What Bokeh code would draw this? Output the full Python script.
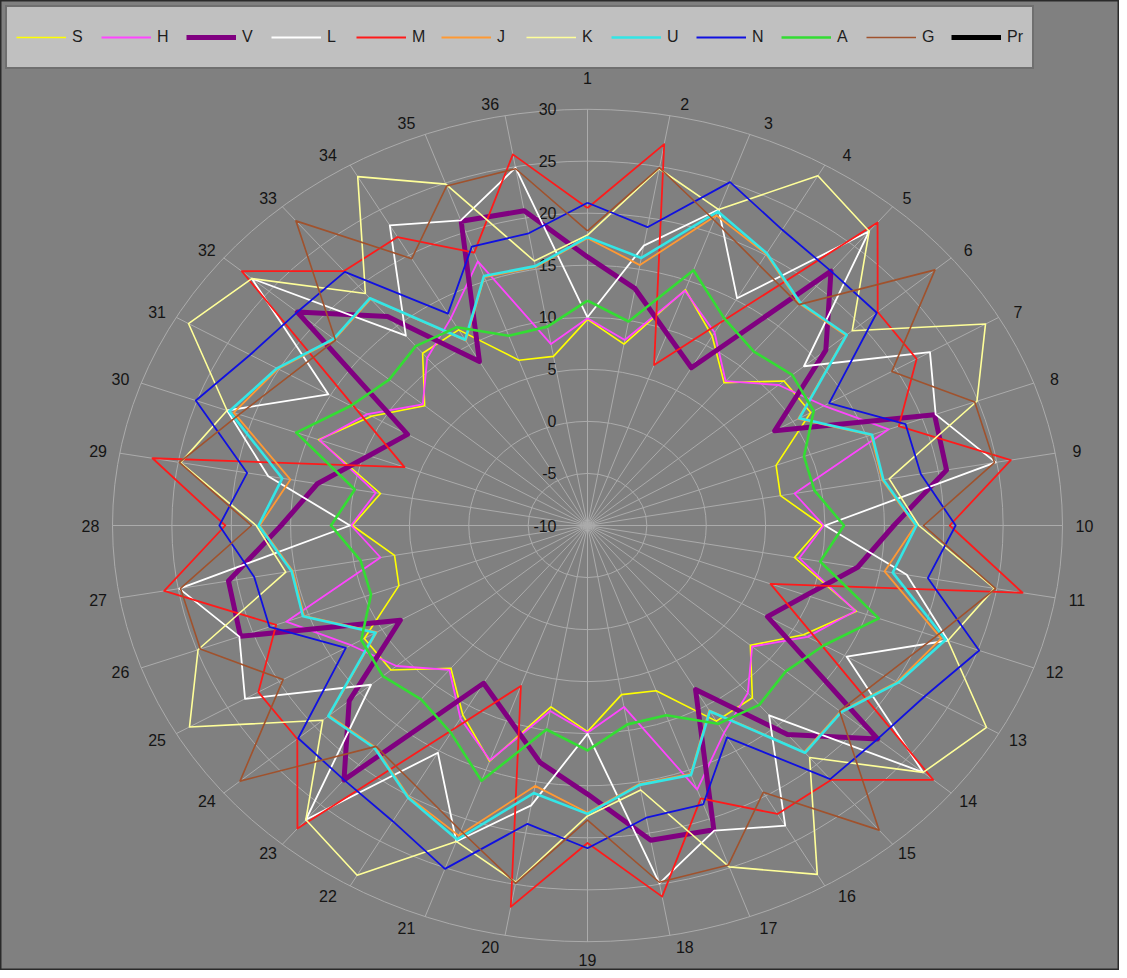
import numpy as np
from bokeh.plotting import figure
from bokeh.models import Legend, LegendItem, Range1d, ColumnDataSource
from bokeh.core.properties import value
from bokeh.embed import file_html
from bokeh.resources import INLINE

# ---------------- data ----------------
categories = [str(i) for i in range(1, 37)]
radial_ticks = [-10, -5, 0, 5, 10, 15, 20, 25, 30]
R_MIN = -10
R_MAX = 30

S = [9.8, 7.7, 14.1, 11.0, 7.9, 11.6, 11.7, 6.9, 6.5,
     9.8, 7.7, 14.1, 11.0, 7.9, 11.6, 11.7, 6.9, 6.5,
     9.8, 7.7, 14.1, 11.0, 7.9, 11.6, 11.7, 6.9, 6.5,
     9.8, 7.7, 14.1, 11.0, 7.9, 11.6, 11.7, 6.9, 6.5]
H = [9.9, 8.1, 14.0, 11.4, 8.1, 11.0, 13.0, 17.0, 7.7,
     9.9, 8.1, 14.0, 11.4, 8.1, 11.0, 13.0, 17.0, 7.7,
     9.9, 8.1, 14.0, 11.4, 8.1, 11.0, 13.0, 17.0, 7.7,
     9.9, 8.1, 14.0, 11.4, 8.1, 11.0, 13.0, 17.0, 7.7]
V = [15.8, 13.1, 9.6, 7.5, 21.9, 16.2, 8.2, 21.1, 20.7,
     15.8, 13.1, 9.6, 7.5, 21.9, 16.2, 8.2, 21.1, 20.7,
     15.8, 13.1, 9.6, 7.5, 21.9, 16.2, 8.2, 21.1, 20.7,
     15.8, 13.1, 9.6, 7.5, 21.9, 16.2, 8.2, 21.1, 20.7]
L = [10.0, 17.3, 22.3, 15.2, 26.9, 13.8, 23.3, 21.2, 24.9,
     10.0, 17.3, 22.3, 15.2, 26.9, 13.8, 23.3, 21.2, 24.9,
     10.0, 17.3, 22.3, 15.2, 26.9, 13.8, 23.3, 21.2, 24.9,
     10.0, 17.3, 22.3, 15.2, 26.9, 13.8, 23.3, 21.2, 24.9]
M = [20.5, 27.2, 6.4, 12.6, 28.0, 21.9, 22.0, 17.9, 26.2,
     20.5, 27.2, 6.4, 12.6, 28.0, 21.9, 22.0, 17.9, 26.2,
     20.5, 27.2, 6.4, 12.6, 28.0, 21.9, 22.0, 17.9, 26.2,
     20.5, 27.2, 6.4, 12.6, 28.0, 21.9, 22.0, 17.9, 26.2]
J = [17.6, 15.4, 21.7, 20.1, 17.8, 18.4, 10.5, 15.4, 15.2,
     17.6, 15.4, 21.7, 20.1, 17.8, 18.4, 10.5, 15.4, 15.2,
     17.6, 15.4, 21.7, 20.1, 17.8, 18.4, 10.5, 15.4, 15.2,
     17.6, 15.4, 21.7, 20.1, 17.8, 18.4, 10.5, 15.4, 15.2]
K = [17.9, 24.8, 22.3, 28.8, 26.9, 19.1, 28.7, 24.9, 15.8,
     17.9, 24.8, 22.3, 28.8, 26.9, 19.1, 28.7, 24.9, 15.8,
     17.9, 24.8, 22.3, 28.8, 26.9, 19.1, 28.7, 24.9, 15.8,
     17.9, 24.8, 22.3, 28.8, 26.9, 19.1, 28.7, 24.9, 15.8]
U = [17.7, 16.1, 22.1, 20.2, 17.9, 18.5, 10.6, 15.5, 15.3,
     17.7, 16.1, 22.1, 20.2, 17.9, 18.5, 10.6, 15.5, 15.3,
     17.7, 16.1, 22.1, 20.2, 17.9, 18.5, 10.6, 15.5, 15.3,
     17.7, 16.1, 22.1, 20.2, 17.9, 18.5, 10.6, 15.5, 15.3]
N = [21.0, 19.1, 25.1, 22.8, 21.9, 21.8, 13.5, 18.5, 18.5,
     21.0, 19.1, 25.1, 22.8, 21.9, 21.8, 13.5, 18.5, 18.5,
     21.0, 19.1, 25.1, 22.8, 21.9, 21.8, 13.5, 18.5, 18.5,
     21.0, 19.1, 25.1, 22.8, 21.9, 21.8, 13.5, 18.5, 18.5]
A = [11.6, 9.9, 16.1, 13.0, 11.8, 12.5, 12.0, 9.4, 9.4,
     11.6, 9.9, 16.1, 13.0, 11.8, 12.5, 12.0, 9.4, 9.4,
     11.6, 9.9, 16.1, 13.0, 11.8, 12.5, 12.0, 9.4, 9.4,
     11.6, 9.9, 16.1, 13.0, 11.8, 12.5, 12.0, 9.4, 9.4]
G = [18.3, 24.9, 21.2, 18.9, 17.7, 28.2, 19.6, 24.7, 24.8,
     18.3, 24.9, 21.2, 18.9, 17.7, 28.2, 19.6, 24.7, 24.8,
     18.3, 24.9, 21.2, 18.9, 17.7, 28.2, 19.6, 24.7, 24.8,
     18.3, 24.9, 21.2, 18.9, 17.7, 28.2, 19.6, 24.7, 24.8]
Pr = [None] * 36   # listed in the legend, no plotted values

series_names = ["S", "H", "V", "L", "M", "J", "K", "U", "N", "A", "G", "Pr"]
series_values = [S, H, V, L, M, J, K, U, N, A, G, Pr]
series_colors = ["#ffff00", "#ff44ff", "#800080", "#ffffff", "#ff1a1a", "#ff9933",
                 "#ffff99", "#33e6e6", "#1010e0", "#33dd33", "#a0522d", "#000000"]
series_widths = [1.6, 1.8, 5, 1.8, 1.8, 1.8, 1.6, 2.6, 1.8, 2.6, 1.6, 5]

# ---------------- layout ----------------
W, Hh = 1119, 970
CX, CY = 587, 525          # centre of the polar area, pixels from top-left
SX, SY = 11.875, 10.41     # pixels per radial unit horizontally / vertically

p = figure(width=W, height=Hh, output_backend="svg", toolbar_location=None,
           x_range=Range1d(-CX / SX, (W - CX) / SX),
           y_range=Range1d(-(Hh - CY) / SY, CY / SY),
           x_axis_location=None, y_axis_location=None,
           min_border=0, background_fill_color="#808080",
           border_fill_color="#808080", outline_line_color="#2a2a2a",
           outline_line_width=2)
p.xgrid.visible = False
p.ygrid.visible = False

n = len(categories)
theta = np.deg2rad(np.arange(n) * 360.0 / n)
sin_t, cos_t = np.sin(theta), np.cos(theta)
r_out = R_MAX - R_MIN

grid_col = "#ababab"
ring_r = [t - R_MIN for t in radial_ticks[1:]]
p.ellipse(x=0, y=0, width=[2 * r for r in ring_r], height=[2 * r for r in ring_r],
          fill_color=None, line_color=grid_col, line_width=1)
p.segment(x0=np.zeros(n), y0=np.zeros(n), x1=r_out * sin_t, y1=r_out * cos_t,
          line_color=grid_col, line_width=1)

font = value("Liberation Sans")
p.text(x=[0] * len(radial_ticks), y=[t - R_MIN for t in radial_ticks],
       text=[str(t) for t in radial_ticks], x_offset=-31,
       text_align="right", text_baseline="middle", text_font=font,
       text_font_size="16px", text_color="#141414")

# category labels: on an ellipse just outside the outer ring, nudged away from
# the near-vertical spokes (pixel nudges converted to data units)
lab_rx, lab_ry = 497.0, 428.0
push_x = np.where(np.abs(cos_t) > 0.85, 11.0 * np.sign(np.round(sin_t, 6)), 0.0)
push_y = np.where(np.abs(sin_t) < 1e-6, np.where(cos_t > 0, 20.0, -6.0), 0.0)
lab_x = (lab_rx * sin_t + push_x) / SX
lab_y = (lab_ry * cos_t + push_y) / SY
p.text(x=lab_x, y=lab_y, text=categories,
       text_align="center", text_baseline="middle", text_font=font,
       text_font_size="16px", text_color="#141414")

items = []
for name, vals, col, lw in zip(series_names, series_values, series_colors, series_widths):
    r = np.array([np.nan if v is None else v for v in vals], dtype=float) - R_MIN
    xs = np.append(r * sin_t, r[0] * sin_t[0])
    ys = np.append(r * cos_t, r[0] * cos_t[0])
    src = ColumnDataSource(dict(x=xs, y=ys))
    rend = p.line("x", "y", source=src, line_color=col, line_width=lw,
                  line_join="round")
    items.append(LegendItem(label=name, renderers=[rend]))

legend = Legend(items=items, orientation="horizontal", location="top_left",
                glyph_width=50, glyph_height=20, label_standoff=6, label_width=16,
                label_height=42, spacing=13, padding=9, margin=5,
                background_fill_color="#c0c0c0", background_fill_alpha=1.0,
                border_line_color="#1e1e1e", border_line_width=2,
                label_text_font="Liberation Sans", label_text_font_size="16px",
                label_text_color="#1e1e1e")
p.add_layout(legend, "center")

open("out.html", "w").write(file_html(p, INLINE))
